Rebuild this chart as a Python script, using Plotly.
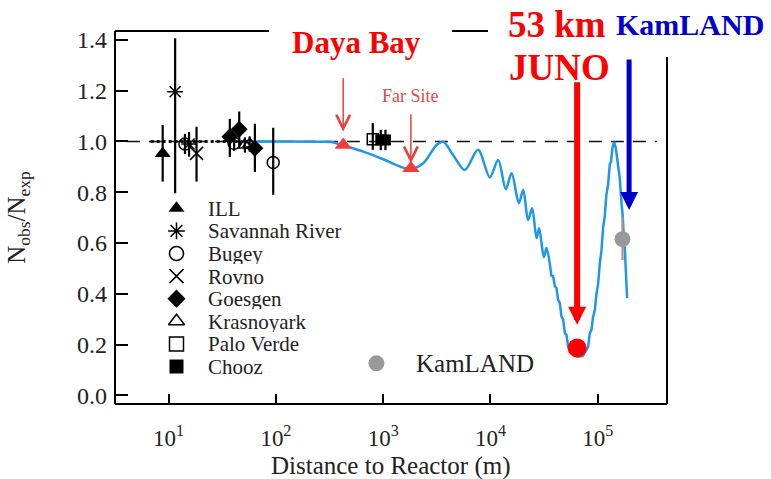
import numpy as np
import plotly.graph_objects as go

# ---------------- data (distance in m, ratio Nobs/Nexp) ----------------
ill_x = [8.8];   ill_y = [0.953];   ill_ep = [0.112];  ill_em = [0.111]
sr_x = [11.5, 15.5]; sr_y = [1.196, 0.99]; sr_ep = [0.21, 0.047]; sr_em = [0.40, 0.05]
bugey_x = [14.2, 40.8, 94.4]; bugey_y = [0.99, 0.993, 0.917]
bugey_ep = [0.04, 0.03, 0.137]; bugey_em = [0.04, 0.03, 0.127]
rovno_x = [18.2]; rovno_y = [0.953]; rovno_ep = [0.105]; rovno_em = [0.111]
goesgen_x = [37.2, 45.5, 63.7]; goesgen_y = [1.019, 1.048, 0.973]
goesgen_ep = [0.07, 0.07, 0.097]; goesgen_em = [0.08, 0.07, 0.093]
kras_x = [51.4, 57.0]; kras_y = [0.986, 0.99]; kras_err = [0.03, 0.03]
palo_x = [800]; palo_y = [1.009]; palo_ep = [0.063]; palo_em = [0.042]
chooz_x = [950, 1050]; chooz_y = [1.006, 1.006]; chooz_err = [0.04, 0.04]

dayabay_x = [424, 1813]; dayabay_y = [0.986, 0.894]
juno_x = [64270]; juno_y = [0.187]
kamland_x = [170240]; kamland_y = [0.615]; kamland_ep = [0.089]; kamland_em = [0.082]

ref_x = [4.08, 355600]; ref_y = [1.0, 1.0]
dot_x = [6.8, 50.0]; dot_y = [1.0, 1.0]

smooth_x = [48, 135, 257, 340, 424, 651, 1000, 1334, 1774, 2360, 3147, 3624, 4488,
            5771, 7674, 9863, 11800, 13900, 15740, 18400, 20200, 22450, 24470, 26900,
            28450, 31480, 33340, 37100]
smooth_y = [1.0, 1.0, 0.999, 0.997, 0.984, 0.960, 0.930, 0.907, 0.891, 0.914, 0.986,
            0.999, 0.947, 0.888, 0.967, 0.859, 0.927, 0.812, 0.875, 0.757, 0.809, 0.691,
            0.737, 0.619, 0.658, 0.544, 0.580, 0.468]
jag_x = [37100, 38440, 39830, 41260, 42750, 44340, 45990, 47640, 49360, 51140, 52980,
         55890, 58970, 65680, 72620, 78630, 81470, 84400, 87440, 90600, 93970, 97450,
         100970, 104620, 108390, 112270, 116320, 120510, 124980, 129630, 133150, 136790,
         142160, 147460, 154930, 160690, 166650, 170800, 175060, 178890, 182770, 185350,
         187930]
jag_y = [0.468, 0.469, 0.430, 0.423, 0.376, 0.363, 0.310, 0.298, 0.245, 0.239, 0.192,
         0.196, 0.159, 0.153, 0.155, 0.179, 0.192, 0.245, 0.258, 0.310, 0.335, 0.400,
         0.440, 0.520, 0.570, 0.660, 0.705, 0.790, 0.830, 0.910, 0.920, 0.970, 0.999,
         0.974, 0.914, 0.855, 0.757, 0.711, 0.625, 0.580, 0.494, 0.458, 0.383]

# arrows: (x in m, tip y)
db_arrow = (424, 1.039)
far_arrow = (1813, 0.914)
juno_arrow = (64270, 0.278)
kam_arrow = (196200, 0.730)

legend_names = ["ILL", "Savannah River", "Bugey", "Rovno", "Goesgen", "Krasnoyark",
                "Palo Verde", "Chooz"]
legend_symbols = ["triangle-up", "asterisk-open", "circle-open", "x-thin-open",
                  "diamond", "triangle-up-open", "square-open", "square"]

x_tickvals = [10, 100, 1000, 1e4, 1e5]
x_ticktext = ["10<sup>1</sup>", "10<sup>2</sup>", "10<sup>3</sup>", "10<sup>4</sup>", "10<sup>5</sup>"]
y_tickvals = [0.0, 0.2, 0.4, 0.6, 0.8, 1.0, 1.2, 1.4]
y_ticktext = ["0.0", "0.2", "0.4", "0.6", "0.8", "1.0", "1.2", "1.4"]

FONT = "Liberation Serif, Times New Roman, serif"
BLUE = "#1e96eb"
fig = go.Figure()

# reference line
fig.add_trace(go.Scatter(x=ref_x, y=ref_y, mode="lines",
                         line=dict(color="#111", width=1.6, dash="13px,9px")))
fig.add_trace(go.Scatter(x=dot_x, y=dot_y, mode="lines",
                         line=dict(color="#111", width=3, dash="3px,3px")))
# oscillation curve
fig.add_trace(go.Scatter(x=smooth_x, y=smooth_y, mode="lines",
                         line=dict(color=BLUE, width=2.5, shape="spline", smoothing=0.9)))
fig.add_trace(go.Scatter(x=jag_x, y=jag_y, mode="lines",
                         line=dict(color=BLUE, width=2.5)))


def pts(x, y, ep, em, symbol, size, lw=0, color="black"):
    fig.add_trace(go.Scatter(
        x=x, y=y, mode="markers",
        marker=dict(symbol=symbol, size=size, color=color,
                    line=dict(color=color, width=lw)),
        error_y=dict(type="data", symmetric=False, array=ep, arrayminus=em,
                     thickness=2.2, width=0, color=color)))


pts(ill_x, ill_y, ill_ep, ill_em, "triangle-up", 14)
pts(sr_x, sr_y, sr_ep, sr_em, "asterisk-open", 13, 1.5)
pts(bugey_x, bugey_y, bugey_ep, bugey_em, "circle-open", 12, 1.5)
pts(rovno_x, rovno_y, rovno_ep, rovno_em, "x-thin-open", 13, 1.5)
pts(goesgen_x, goesgen_y, goesgen_ep, goesgen_em, "diamond", 13)
pts(kras_x, kras_y, kras_err, kras_err, "triangle-up-open", 12, 1.5)
pts(palo_x, palo_y, palo_ep, palo_em, "square-open", 11, 1.5)
pts(chooz_x, chooz_y, chooz_err, chooz_err, "square", 11)
pts(kamland_x, kamland_y, kamland_ep, kamland_em, "circle", 16, 0, "#999999")

fig.add_trace(go.Scatter(x=dayabay_x, y=dayabay_y, mode="markers",
                         marker=dict(symbol="triangle-up", size=15, color="#f23c3c")))
fig.add_trace(go.Scatter(x=juno_x, y=juno_y, mode="markers",
                         marker=dict(symbol="circle", size=19, color="#ff0000")))

# manual legend on an overlay axis [0,1]
leg_x = 0.1114
leg_y0 = 0.5247
leg_dy = 0.0606
leg_rows = [leg_y0 - i * leg_dy for i in range(len(legend_names))]
lw_list = [0, 1.5, 1.5, 1.5, 0, 1.5, 1.5, 0]
fig.add_trace(go.Scatter(x=[leg_x] * len(leg_rows), y=leg_rows, xaxis="x2", yaxis="y2",
                         mode="markers",
                         marker=dict(symbol=legend_symbols, size=14, color="black",
                                     line=dict(color="black", width=lw_list))))
fig.add_trace(go.Scatter(x=[0.4736], y=[0.1091], xaxis="x2", yaxis="y2", mode="markers",
                         marker=dict(symbol="circle", size=16, color="#999999")))

annotations = []
for name, yy in zip(legend_names, leg_rows):
    annotations.append(dict(x=0.1667, y=yy, xref="paper", yref="paper", text=name,
                            showarrow=False, xanchor="left", yanchor="middle",
                            height=21, borderpad=0,
                            font=dict(family=FONT, size=21, color="#222")))
annotations.append(dict(x=0.5408, y=0.1091, xref="paper", yref="paper", text="KamLAND",
                        showarrow=False, xanchor="left", yanchor="middle",
                        font=dict(family=FONT, size=25, color="#222")))


def arrow(pt, ay, color, width, head, size):
    annotations.append(dict(x=np.log10(pt[0]), y=pt[1], xref="x", yref="y", text=" ",
                            showarrow=True, ax=0, ay=ay, arrowhead=head, arrowsize=size,
                            arrowwidth=width, arrowcolor=color, standoff=0,
                            startstandoff=0, font=dict(size=2)))


arrow(db_arrow, -55.7, "#e8403f", 1.5, 5, 1.8)
arrow(far_arrow, -51.6, "#e8403f", 1.5, 5, 1.8)
arrow(juno_arrow, -245, "#ff0000", 6, 2, 0.6)
arrow(kam_arrow, -153, "#0000c8", 5, 2, 0.72)


def label(px, py, text, size, color, bold=True):
    annotations.append(dict(x=(px - 115) / 552, y=(404 - py) / 373, xref="paper",
                            yref="paper", text=f"<b>{text}</b>" if bold else text,
                            showarrow=False, xanchor="center", yanchor="middle",
                            font=dict(family=FONT, size=size, color=color)))


label(356, 42, "Daya Bay", 31, "#ff0000")
label(410, 96, "Far Site", 18, "#e04848", bold=False)
label(556.5, 25, "53 km", 37, "#ff0000")
label(559, 68, "JUNO", 37, "#ff0000")
label(690, 25, "KamLAND", 30, "#0000cc")
# x-axis title placed explicitly below the tick labels
annotations.append(dict(x=0.5, y=(404 - 466) / 373, xref="paper", yref="paper",
                        text="Distance to Reactor (m)", showarrow=False,
                        xanchor="center", yanchor="middle", height=26, borderpad=0,
                        font=dict(family=FONT, size=25, color="#222")))

shapes = [
    dict(type="line", xref="paper", yref="paper", x0=0, x1=0, y0=0, y1=1,
         line=dict(color="black", width=2)),
    dict(type="line", xref="paper", yref="paper", x0=0, x1=1, y0=0, y1=0,
         line=dict(color="black", width=2)),
    dict(type="line", xref="paper", yref="paper", x0=0, x1=0.279, y0=1, y1=1,
         line=dict(color="black", width=2)),
    dict(type="line", xref="paper", yref="paper", x0=0.6105, x1=0.6757, y0=1, y1=1,
         line=dict(color="black", width=2)),
    dict(type="line", xref="paper", yref="paper", x0=1, x1=1, y0=0, y1=0.930,
         line=dict(color="black", width=2)),
]

fig.update_layout(
    width=771, height=479,
    margin=dict(l=115, r=104, t=31, b=75, autoexpand=False),
    paper_bgcolor="white", plot_bgcolor="white",
    showlegend=False,
    font=dict(family=FONT, color="#222"),
    annotations=annotations, shapes=shapes,
    xaxis=dict(type="log", range=[0.5, 5.646], tickvals=x_tickvals, ticktext=x_ticktext,
               ticks="inside", ticklen=10, tickwidth=2, tickcolor="black",
               showgrid=False, zeroline=False, showline=False, automargin=False,
               tickfont=dict(family=FONT, size=23, color="#222"),
               ticklabelstandoff=18),
    yaxis=dict(range=[-0.034, 1.435], tickvals=y_tickvals, ticktext=y_ticktext,
               ticks="inside", ticklen=13, tickwidth=2, tickcolor="black",
               showgrid=False, zeroline=False, showline=False, automargin=False,
               tickfont=dict(family=FONT, size=24, color="#222"),
               ticklabelstandoff=7,
               title=dict(text="N<sub>obs</sub>/N<sub>exp</sub>", standoff=44,
                          font=dict(family=FONT, size=25, color="#222"))),
    xaxis2=dict(overlaying="x", range=[0, 1], visible=False, anchor="y2"),
    yaxis2=dict(overlaying="y", range=[0, 1], visible=False, anchor="x2"),
)

fig.write_html("out.html")
